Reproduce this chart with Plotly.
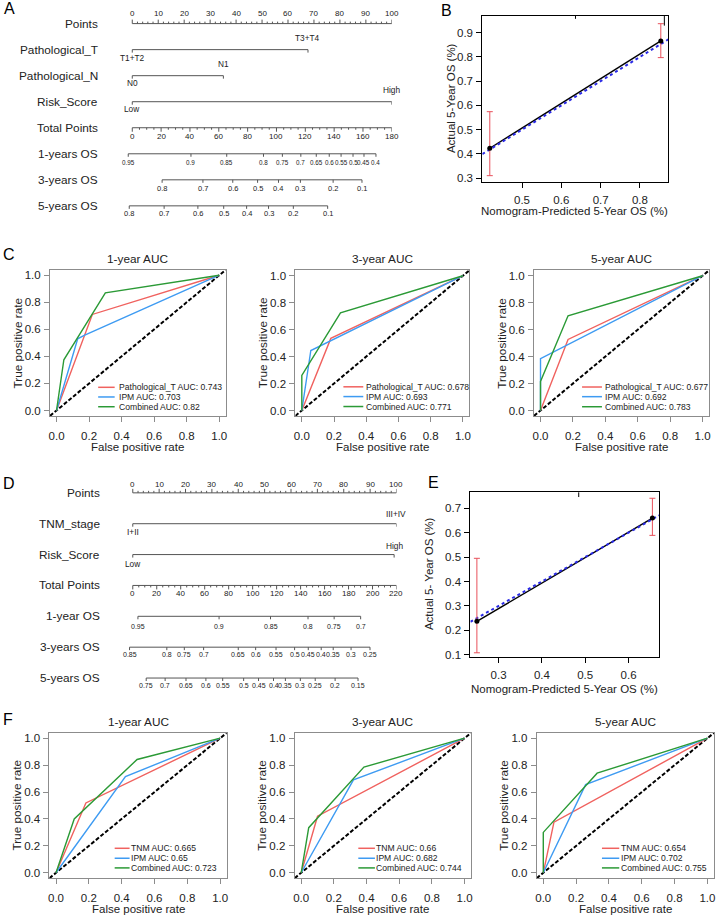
import plotly.graph_objects as go

W, H = 720, 918
FONT = "Liberation Sans, Arial, Helvetica, sans-serif"
INK = "#222222"
NOMO_LINE = "#555555"
BOX_GREY = "#8c8c8c"
ROC_COLORS = ["#F0625F", "#3E9BF2", "#2B9A36"]

# ======================= DATA =======================
# ---------- Panel A : nomogram ----------
a_rows = ["Points", "Pathological_T", "Pathological_N", "Risk_Score",
          "Total Points", "1-years OS", "3-years OS", "5-years OS"]
a_points_major = [0, 10, 20, 30, 40, 50, 60, 70, 80, 90, 100]
a_T_levels = ["T1+T2", "T3+T4"]
a_T_points = [0, 67.7]
a_N_levels = ["N0", "N1"]
a_N_points = [0, 35.1]
a_risk_levels = ["Low", "High"]
a_risk_points = [0, 100]
a_total_max = 180
a_total_major = [0, 20, 40, 60, 80, 100, 120, 140, 160, 180]
a_os1_labels = ["0.95", "0.9", "0.85", "0.8", "0.75", "0.7", "0.65", "0.6", "0.55", "0.5", "0.45", "0.4"]
a_os1_total = [-2.8, 40.7, 65.5, 91.0, 104.1, 116.9, 127.6, 136.6, 144.8, 153.1, 160.7, 169.0]
a_os3_labels = ["0.8", "0.7", "0.6", "0.5", "0.4", "0.3", "0.2", "0.1"]
a_os3_total = [20.7, 49.0, 69.7, 86.9, 101.4, 116.6, 139.3, 159.3]
a_os5_labels = ["0.8", "0.7", "0.6", "0.5", "0.4", "0.3", "0.2", "0.1"]
a_os5_total = [-2.1, 22.1, 45.5, 63.4, 79.3, 94.5, 111.7, 135.5]

# ---------- Panel B : calibration (5-year) ----------
b_pred = [0.418, 0.853]
b_obs = [0.423, 0.866]
b_low = [0.310, 0.797]
b_high = [0.574, 0.937]
b_rug_x = [0.636, 0.862]
b_rug_len = [0.012, 0.040]
b_xticks = [0.5, 0.6, 0.7, 0.8]
b_yticks = [0.3, 0.4, 0.5, 0.6, 0.7, 0.8, 0.9]

# ---------- Panel C : ROC (Pathological_T / IPM / Combined) ----------
c_titles = ["1-year AUC", "3-year AUC", "5-year AUC"]
c_models = ["Pathological_T", "IPM", "Combined"]
c_auc = [[0.743, 0.703, 0.82], [0.678, 0.693, 0.771], [0.677, 0.692, 0.783]]
c1_fpr = [[0, 0.22, 1], [0, 0.13, 0.17, 1], [0, 0.045, 0.30, 1]]
c1_tpr = [[0, 0.71, 1], [0, 0.53, 0.555, 1], [0, 0.375, 0.87, 1]]
c3_fpr = [[0, 0.18, 1], [0, 0.056, 1], [0, 0, 0.24, 1]]
c3_tpr = [[0, 0.535, 1], [0, 0.445, 1], [0, 0.26, 0.725, 1]]
c5_fpr = [[0, 0.17, 1], [0, 0, 1], [0, 0, 0.17, 1]]
c5_tpr = [[0, 0.527, 1], [0, 0.385, 1], [0, 0.215, 0.703, 1]]

# ---------- Panel D : nomogram ----------
d_rows = ["Points", "TNM_stage", "Risk_Score", "Total Points",
          "1-year OS", "3-years OS", "5-years OS"]
d_points_major = [0, 10, 20, 30, 40, 50, 60, 70, 80, 90, 100]
d_tnm_levels = ["I+II", "III+IV"]
d_tnm_points = [0, 100]
d_risk_levels = ["Low", "High"]
d_risk_points = [0, 99.1]
d_total_max = 220
d_total_major = [0, 20, 40, 60, 80, 100, 120, 140, 160, 180, 200, 220]
d_os1_labels = ["0.95", "0.9", "0.85", "0.8", "0.75", "0.7"]
d_os1_total = [4.3, 72.0, 114.9, 146.2, 168.0, 190.1]
d_os3_labels = ["0.85", "0.8", "0.75", "0.7", "0.65", "0.6", "0.55", "0.5",
                "0.45", "0.4", "0.35", "0.3", "0.25"]
d_os3_total = [-2.7, 28.4, 43.0, 59.1, 88.0, 102.5, 119.5, 135.0, 146.4, 157.2, 167.2, 182.1, 197.9]
d_os5_labels = ["0.75", "0.7", "0.65", "0.6", "0.55", "0.5", "0.45", "0.4",
                "0.35", "0.3", "0.25", "0.2", "0.15"]
d_os5_total = [11.2, 27.0, 44.4, 61.0, 75.0, 92.5, 104.9, 117.4, 127.3, 139.8, 152.2, 168.8, 187.9]

# ---------- Panel E : calibration (5-year) ----------
e_pred = [0.250, 0.655]
e_obs = [0.237, 0.660]
e_low = [0.108, 0.589]
e_high = [0.495, 0.741]
e_rug_x = [0.485]
e_rug_len = [0.020]
e_xticks = [0.3, 0.4, 0.5, 0.6]
e_yticks = [0.1, 0.2, 0.3, 0.4, 0.5, 0.6, 0.7]

# ---------- Panel F : ROC (TNM / IPM / Combined) ----------
f_models = ["TNM", "IPM", "Combined"]
f_auc = [[0.665, 0.65, 0.723], [0.66, 0.682, 0.744], [0.654, 0.702, 0.755]]
f1_fpr = [[0, 0.182, 1], [0, 0.423, 1], [0, 0.111, 0.494, 1]]
f1_tpr = [[0, 0.519, 1], [0, 0.714, 1], [0, 0.40, 0.842, 1]]
f3_fpr = [[0, 0.10, 1], [0, 0.32, 1], [0, 0.046, 0.384, 1]]
f3_tpr = [[0, 0.42, 1], [0, 0.69, 1], [0, 0.335, 0.785, 1]]
f5_fpr = [[0, 0.065, 1], [0, 0.258, 1], [0, 0, 0.328, 1]]
f5_tpr = [[0, 0.376, 1], [0, 0.655, 1], [0, 0.30, 0.74, 1]]

roc_ticks = [0, 0.2, 0.4, 0.6, 0.8, 1.0]

# ======================= HELPERS =======================
fig = go.Figure()
layout = {}
NOMO_XMIN = -6  # points-axis range starts a little left of 0 so that survival scales fit


def names(i):
    s = "" if i == 1 else str(i)
    return "xaxis" + s, "yaxis" + s, "x" + s, "y" + s


def pxx(v):
    return v / W


def pxy(v):
    return 1 - v / H


def text(x, y, t, size, xref="paper", yref="paper", xanchor="center", yanchor="middle",
         angle=0, yshift=0, color=INK):
    fig.add_annotation(x=x, y=y, xref=xref, yref=yref, text=t, showarrow=False,
                       xanchor=xanchor, yanchor=yanchor, textangle=angle, yshift=yshift,
                       borderpad=0,
                       font=dict(family=FONT, size=size, color=color))


def nomo_axes(i, x0, x100, top, bottom, nrows):
    xa, ya, xr, yr = names(i)
    per = (x100 - x0) / 100.0
    left = x0 + NOMO_XMIN * per
    common = dict(visible=False, showgrid=False, zeroline=False, fixedrange=True)
    layout[xa] = dict(domain=[pxx(left), pxx(x100)], range=[NOMO_XMIN, 100], anchor=yr, **common)
    layout[ya] = dict(domain=[pxy(bottom), pxy(top)], range=[nrows - 0.5, -0.5], anchor=xr, **common)


def scale_row(i, row, step, pos, labels, side, off, size, major_px=4,
              minor=(), minor_px=2):
    xa, ya, xr, yr = names(i)
    xs = [min(pos), max(pos), None]
    ys = [row, row, None]
    d = (-1 if side == "above" else 1) / step
    for p in pos:
        xs += [p, p, None]
        ys += [row, row + d * major_px, None]
    for p in minor:
        xs += [p, p, None]
        ys += [row, row + d * minor_px, None]
    fig.add_trace(go.Scatter(x=xs, y=ys, mode="lines", line=dict(color=NOMO_LINE, width=1),
                             xaxis=xr, yaxis=yr, hoverinfo="skip", showlegend=False))
    for p, t in zip(pos, labels):
        text(p, row, t, size, xref=xr, yref=yr, yshift=off if side == "above" else -off)


def factor_row(i, row, step, pos, labels, off_below, off_above, size):
    xa, ya, xr, yr = names(i)
    xs = [min(pos), max(pos), None]
    ys = [row, row, None]
    for p in pos:
        xs += [p, p, None]
        ys += [row, row + 3 / step, None]
    fig.add_trace(go.Scatter(x=xs, y=ys, mode="lines", line=dict(color=NOMO_LINE, width=1),
                             xaxis=xr, yaxis=yr, hoverinfo="skip", showlegend=False))
    for k, (p, t) in enumerate(zip(pos, labels)):
        if k % 2 == 0:
            text(p, row, t, size, xref=xr, yref=yr, yshift=-off_below)
        else:
            text(p, row, t, size, xref=xr, yref=yr, yshift=off_above)


def row_label(i, row, name, right_px, size=11.8):
    xa, ya, xr, yr = names(i)
    text(pxx(right_px), row, name, size, xref="paper", yref=yr, xanchor="right")


def calib(i, x0, x1, top, bottom, xrange, yrange, xt, yt, pred, obs, lo, hi, rug_x, rug_len):
    xa, ya, xr, yr = names(i)
    ax = dict(showline=True, mirror=True, linecolor="black", linewidth=1, ticks="outside",
              ticklen=5, tickcolor="black", tickformat=".1f", showgrid=False, zeroline=False,
              tickfont=dict(family=FONT, size=11.5, color=INK), fixedrange=True)
    layout[xa] = dict(domain=[pxx(x0), pxx(x1)], range=xrange, tickvals=xt, anchor=yr,
                      ticklabelstandoff=2, **ax)
    layout[ya] = dict(domain=[pxy(bottom), pxy(top)], range=yrange, tickvals=yt, anchor=xr,
                      ticklabelstandoff=1, **ax)
    fig.add_trace(go.Scatter(x=pred, y=obs, mode="lines", line=dict(color="black", width=1.4),
                             xaxis=xr, yaxis=yr, hoverinfo="skip", showlegend=False))
    fig.add_trace(go.Scatter(x=xrange, y=xrange, mode="lines",
                             line=dict(color="#2a2ae6", width=2, dash="dot"),
                             xaxis=xr, yaxis=yr, hoverinfo="skip", showlegend=False))
    fig.add_trace(go.Scatter(
        x=pred, y=obs, mode="markers",
        marker=dict(color="black", size=5),
        error_y=dict(type="data", symmetric=False,
                     array=[h - o for h, o in zip(hi, obs)],
                     arrayminus=[o - l for o, l in zip(obs, lo)],
                     color="#e8505b", thickness=1, width=3),
        xaxis=xr, yaxis=yr, hoverinfo="skip", showlegend=False))
    rx, ry = [], []
    for x, L in zip(rug_x, rug_len):
        rx += [x, x, None]
        ry += [yrange[1], yrange[1] - L, None]
    fig.add_trace(go.Scatter(x=rx, y=ry, mode="lines", line=dict(color="black", width=1),
                             xaxis=xr, yaxis=yr, hoverinfo="skip", showlegend=False))


def roc(i, x0, x1, top, bottom, title, fprs, tprs, models, aucs,
        leg_x0, leg_x1, leg_tx, leg_y):
    xa, ya, xr, yr = names(i)
    rng = [-0.04, 1.04]
    ax = dict(showline=True, mirror=True, linecolor=BOX_GREY, linewidth=1, ticks="outside",
              ticklen=5, tickcolor=BOX_GREY, tickformat=".1f", tickvals=roc_ticks,
              showgrid=False, zeroline=False, range=rng, fixedrange=True,
              tickfont=dict(family=FONT, size=11.5, color=INK))
    layout[xa] = dict(domain=[pxx(x0), pxx(x1)], anchor=yr, ticklabelstandoff=4, **ax)
    layout[ya] = dict(domain=[pxy(bottom), pxy(top)], anchor=xr, ticklabelstandoff=1, **ax)
    fig.add_trace(go.Scatter(x=rng, y=rng, mode="lines",
                             line=dict(color="black", width=2, dash="4px,2px"),
                             xaxis=xr, yaxis=yr, hoverinfo="skip", showlegend=False))
    for fx, ty, col in zip(fprs, tprs, ROC_COLORS):
        fig.add_trace(go.Scatter(x=fx, y=ty, mode="lines", line=dict(color=col, width=1.4),
                                 xaxis=xr, yaxis=yr, hoverinfo="skip", showlegend=False))
    cx = (x0 + x1) / 2
    text(pxx(cx), pxy(top - 11), title, 11.8)
    text(pxx(cx), pxy(bottom + 31), "False positive rate", 11.5)
    text(pxx(x0 - 32.5), pxy((top + bottom) / 2), "True positive rate", 11.8, angle=-90)
    for m, a, col, yy in zip(models, aucs, ROC_COLORS, leg_y):
        fig.add_shape(type="line", xref="paper", yref="paper",
                      x0=pxx(leg_x0), x1=pxx(leg_x1), y0=pxy(yy), y1=pxy(yy),
                      line=dict(color=col, width=1.5))
        text(pxx(leg_tx), pxy(yy), f"{m} AUC: {a}", 8.6, xanchor="left")


# ======================= PANEL A =======================
A_STEP = 26.15
A_ROW0 = 22.7
nomo_axes(1, 131, 392, A_ROW0 - A_STEP / 2, A_ROW0 + A_STEP * 7.5, len(a_rows))
for r, nm in enumerate(a_rows):
    row_label(1, r, nm, 98)
a_k = 100 / a_total_max
scale_row(1, 0, A_STEP, a_points_major, [str(v) for v in a_points_major], "above", 10, 8,
          minor=[v for v in range(0, 101, 2) if v % 10])
factor_row(1, 1, A_STEP, a_T_points, a_T_levels, 8, 12, 8.3)
factor_row(1, 2, A_STEP, a_N_points, a_N_levels, 7.5, 11.5, 8.3)
factor_row(1, 3, A_STEP, a_risk_points, a_risk_levels, 7.5, 11.5, 8.3)
scale_row(1, 4, A_STEP, [v * a_k for v in a_total_major], [str(v) for v in a_total_major],
          "below", 9, 8, minor=[v * a_k for v in range(0, 181, 5) if v % 20])
scale_row(1, 5, A_STEP, [v * a_k for v in a_os1_total], a_os1_labels, "below", 9, 6.3, major_px=3)
scale_row(1, 6, A_STEP, [v * a_k for v in a_os3_total], a_os3_labels, "below", 8.5, 7.5, major_px=3)
scale_row(1, 7, A_STEP, [v * a_k for v in a_os5_total], a_os5_labels, "below", 8, 7.5, major_px=3)

# ======================= PANEL B =======================
calib(2, 483, 670, 15, 182, [0.399, 0.872], [0.283, 0.969], b_xticks, b_yticks,
      b_pred, b_obs, b_low, b_high, b_rug_x, b_rug_len)
text(pxx(576), pxy(210.5), "Nomogram-Predicted 5-Year OS (%)", 11.5)
text(pxx(451), pxy(97), "Actual 5-Year OS (%)", 11.5, angle=-90)

# ======================= PANEL C =======================
roc(3, 48.3, 225, 270, 416.7, c_titles[0], c1_fpr, c1_tpr, c_models, c_auc[0],
    96.7, 113.3, 117, [388, 397.7, 407.5])
roc(4, 295, 470, 270.5, 416.7, c_titles[1], c3_fpr, c3_tpr, c_models, c_auc[1],
    343.3, 363.3, 365.5, [387.5, 397.3, 407.3])
roc(5, 535, 711, 270.5, 416.7, c_titles[2], c5_fpr, c5_tpr, c_models, c_auc[2],
    583.3, 603.3, 605, [387.7, 397.4, 407.5])

# ======================= PANEL D =======================
D_STEP = 31
D_ROW0 = 494
nomo_axes(6, 131.5, 396.7, D_ROW0 - D_STEP / 2, D_ROW0 + D_STEP * 6.5, len(d_rows))
for r, nm in enumerate(d_rows):
    row_label(6, r, nm, 100)
d_k = 100 / d_total_max
scale_row(6, 0, D_STEP, d_points_major, [str(v) for v in d_points_major], "above", 8, 8,
          minor=[v for v in range(0, 101, 2) if v % 10])
factor_row(6, 1, D_STEP, d_tnm_points, d_tnm_levels, 8, 10, 8.3)
factor_row(6, 2, D_STEP, d_risk_points, d_risk_levels, 9.3, 8.7, 8.3)
scale_row(6, 3, D_STEP, [v * d_k for v in d_total_major], [str(v) for v in d_total_major],
          "below", 8.5, 8, minor=[v * d_k for v in range(0, 221, 5) if v % 20])
scale_row(6, 4, D_STEP, [v * d_k for v in d_os1_total], d_os1_labels, "below", 10, 7, major_px=3)
scale_row(6, 5, D_STEP, [v * d_k for v in d_os3_total], d_os3_labels, "below", 7.7, 7, major_px=3)
scale_row(6, 6, D_STEP, [v * d_k for v in d_os5_total], d_os5_labels, "below", 7.5, 7, major_px=3)

# ======================= PANEL E =======================
calib(7, 471, 661, 493.3, 659.3, [0.235, 0.671], [0.089, 0.766], e_xticks, e_yticks,
      e_pred, e_obs, e_low, e_high, e_rug_x, e_rug_len)
text(pxx(566), pxy(691.5), "Nomogram-Predicted 5-Year OS (%)", 11.5)
text(pxx(430), pxy(575), "Actual 5- Year OS (%)", 11.5, angle=-90)

# ======================= PANEL F =======================
roc(8, 47.7, 226, 735, 881, c_titles[0], f1_fpr, f1_tpr, f_models, f_auc[0],
    113.3, 128.3, 128.5, [851, 861, 870.7])
roc(9, 294.3, 471.7, 735, 881, c_titles[1], f3_fpr, f3_tpr, f_models, f_auc[1],
    358.3, 375, 375.5, [851, 861, 870.7])
roc(10, 537.7, 716, 735, 881, c_titles[2], f5_fpr, f5_tpr, f_models, f_auc[2],
    603.3, 620.7, 621, [851, 861, 870.7])

# ======================= PANEL LETTERS =======================
for letter, lx, ly in [("A", 7.5, 8), ("B", 447, 9.5), ("C", 7.5, 255),
                       ("D", 7, 485), ("E", 433.5, 484), ("F", 6, 721.5)]:
    text(pxx(lx), pxy(ly), letter, 16, color="black")

fig.update_layout(
    width=W, height=H, margin=dict(l=0, r=0, t=0, b=0),
    paper_bgcolor="white", plot_bgcolor="white", showlegend=False,
    font=dict(family=FONT, color=INK),
    **layout,
)
fig.write_html(
    "out.html",
    config={"displayModeBar": False, "staticPlot": True},
    post_script="document.body.style.margin='0px';document.body.style.padding='0px';"
                "document.body.style.overflow='hidden';",
)
